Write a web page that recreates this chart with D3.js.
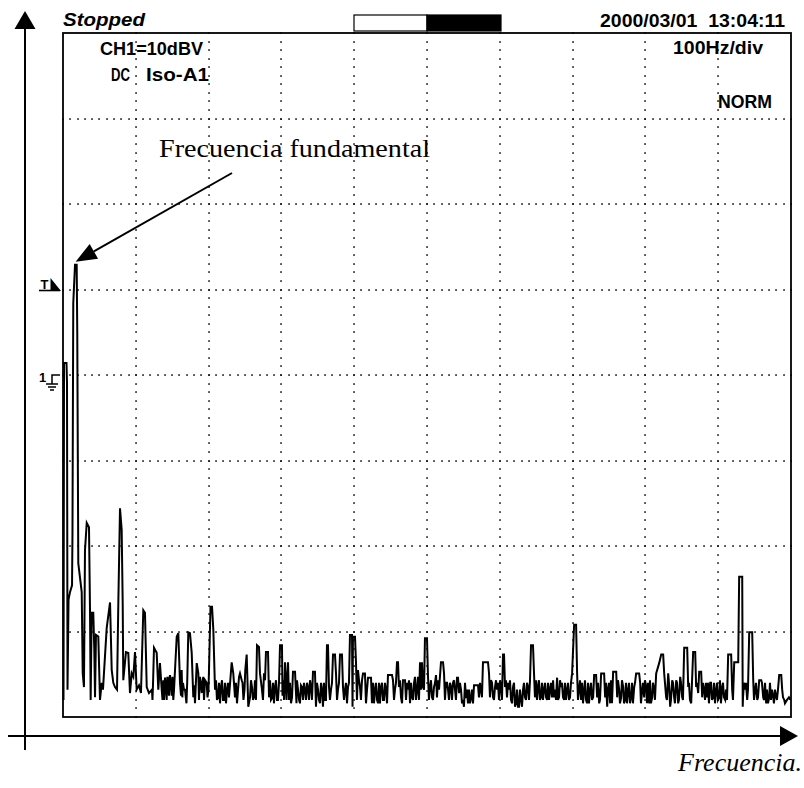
<!DOCTYPE html>
<html>
<head>
<meta charset="utf-8">
<script src="https://cdn.jsdelivr.net/npm/d3@7"></script>
<style>
html,body{margin:0;padding:0;background:#fff;}
svg{display:block;}
.scope{font-family:"Liberation Sans Narrow","Liberation Sans",Arial,sans-serif;fill:#000;font-weight:bold;}
.serif{font-family:"Liberation Serif","Times New Roman",serif;fill:#000;}
</style>
</head>
<body>
<svg id="chart" width="804" height="788"></svg>
<script>
// ---- data (frequency in Hz, level in dBV) ----
const xTicksHz = [0,100,200,300,400,500,600,700,800,900,1000];
const yTicksDb = [-70,-60,-50,-40,-30,-20,-10,0,10];
const headerLabels = ["Stopped", "2000/03/01  13:04:11"];
const screenLabels = ["CH1=10dBV", "DC", "Iso-A1", "100Hz/div", "NORM"];
const annotationLabel = "Frecuencia fundamental";
const fundamental = [18.0, -17.1];
const axisLabel = "Frecuencia.";
// main trace breakpoints [Hz, dBV]
const spectrum = [
[0.7,-68.0],[1.4,-28.6],[4.8,-28.6],[5.5,-30.9],[6.2,-66.8],[7.6,-56.3],[9.6,-55.4],[12.4,-54.6],[13.0,-48.7],[14.1,-21.6],
[16.5,-17.1],[18.8,-17.1],[19.6,-25.1],[21.0,-52.0],[25.7,-55.4],[27.1,-64.9],[28.8,-66.5],[30.2,-50.5],[32.6,-47.3],[35.7,-47.8],
[37.1,-57.5],[38.0,-68.0],[39.4,-57.8],[41.6,-57.8],[43.0,-62.2],[44.0,-67.7],[45.3,-60.4],[48.5,-60.6],[50.8,-68.0],[53.2,-66.0],
[54.9,-66.8],[60.0,-59.6],[64.6,-56.6],[66.9,-64.5],[69.1,-66.0],[71.4,-66.5],[74.2,-66.8],[76.0,-56.7],[78.3,-45.6],[80.6,-48.1],
[82.0,-56.7],[82.8,-65.7],[86.5,-62.4],[89.7,-62.5],[92.0,-67.2],[94.4,-64.9],[96.6,-65.3],[98.9,-62.4],[101.2,-66.8],[104.4,-66.3],
[107.1,-67.2],[110.3,-57.5],[112.6,-57.8],[115.0,-66.5],[118.1,-67.2],[122.2,-66.8],[125.0,-61.9],[128.7,-62.5],[130.9,-66.8],[133.2,-63.7],
[135.6,-66.8],[140.1,-65.4],[144.2,-65.7],[147.0,-65.1],[149.3,-67.5],[152.5,-66.8],[156.2,-60.6],[158.4,-60.2],[160.7,-66.0],[164.8,-66.0],
[167.6,-66.8],[172.1,-60.1],[174.4,-60.2],[176.8,-62.5],[179.0,-67.7],[181.3,-68.4],[183.7,-63.7],[185.9,-64.9],[188.2,-65.3],[190.5,-67.2],
[192.7,-65.3],[197.4,-66.0],[199.9,-66.8],[202.6,-57.1],[204.7,-57.1],[206.5,-59.8],[208.8,-66.8],[212.9,-67.7],[217.0,-66.5],[221.2,-68.0],
[225.3,-66.8],[228.0,-67.7],[231.7,-63.6],[233.9,-64.9],[236.3,-67.7],[240.4,-66.8],[243.1,-64.9],[245.5,-65.7],[247.9,-68.0],[252.3,-62.7],
[254.5,-68.8],[256.9,-67.7],[259.6,-66.5],[262.4,-67.7],[266.5,-61.6],[269.2,-61.8],[270.6,-64.9],[273.3,-66.8],[276.1,-64.9],[278.8,-62.4],
[281.6,-62.4],[283.0,-67.7],[287.1,-67.8],[291.2,-66.5],[295.3,-68.0],[298.1,-61.6],[300.8,-61.6],[301.5,-67.5],[305.0,-63.6],[309.1,-63.6],
[310.4,-68.0],[313.2,-68.4],[315.9,-64.7],[318.7,-64.7],[320.7,-68.4],[322.8,-66.8],[325.5,-68.4],[328.3,-66.5],[332.4,-66.8],[336.5,-66.5],
[340.7,-66.5],[343.4,-64.7],[346.1,-64.7],[347.5,-68.8],[350.3,-66.8],[353.0,-68.4],[355.8,-66.8],[359.9,-68.0],[362.6,-61.6],[364.0,-61.6],
[365.4,-66.5],[368.1,-66.8],[370.9,-62.7],[373.6,-62.7],[375.0,-64.9],[377.7,-66.8],[380.5,-62.7],[383.2,-62.7],[384.6,-66.5],[387.4,-66.8],
[391.5,-66.5],[394.2,-60.4],[397.0,-60.4],[397.7,-68.8],[398.3,-60.6],[401.1,-60.6],[402.5,-63.7],[405.2,-64.5],[408.0,-66.5],[412.1,-64.9],
[414.8,-64.9],[416.2,-68.4],[419.0,-65.4],[423.1,-65.4],[424.4,-68.4],[428.6,-66.8],[432.7,-68.4],[436.8,-66.5],[440.9,-68.0],[443.7,-66.8],
[446.4,-65.1],[451.9,-65.1],[453.3,-65.7],[456.0,-66.8],[458.8,-63.6],[460.2,-63.6],[461.5,-66.5],[464.3,-67.7],[467.0,-65.7],[469.8,-65.7],
[471.2,-68.0],[473.9,-66.8],[476.7,-68.4],[479.4,-67.7],[483.5,-65.3],[487.6,-65.3],[490.4,-63.6],[493.1,-63.6],[494.5,-66.5],[497.2,-60.8],
[500.0,-60.8],[501.4,-65.3],[504.1,-66.5],[506.9,-67.7],[509.6,-66.5],[512.4,-65.1],[513.7,-67.7],[516.5,-66.8],[519.2,-63.6],[522.0,-63.6],
[523.4,-64.9],[526.1,-66.0],[528.9,-66.8],[530.2,-68.0],[533.0,-66.5],[535.7,-66.0],[538.5,-66.8],[541.2,-65.4],[542.6,-65.4],[544.0,-67.2],
[546.7,-66.8],[549.5,-68.0],[550.8,-68.8],[553.6,-67.8],[560.5,-67.8],[564.6,-66.3],[570.1,-66.3],[571.4,-67.7],[574.2,-66.8],[576.9,-63.6],
[583.8,-63.6],[585.2,-64.9],[587.9,-65.7],[590.7,-67.7],[593.4,-66.5],[596.2,-66.8],[598.9,-68.0],[601.7,-66.5],[604.4,-62.7],[605.8,-62.7],
[607.2,-66.5],[609.9,-67.7],[612.7,-66.8],[615.4,-68.0],[618.1,-66.5],[622.3,-68.4],[626.4,-68.8],[629.2,-68.0],[631.9,-66.8],[634.6,-67.7],
[638.8,-66.5],[642.9,-61.6],[645.6,-61.6],[647.0,-64.9],[649.8,-65.7],[652.5,-66.5],[656.6,-67.7],[660.8,-66.8],[664.9,-68.0],[669.0,-66.8],
[673.2,-65.7],[675.9,-66.8],[678.7,-65.4],[681.4,-67.7],[684.2,-66.5],[688.3,-68.0],[692.4,-66.8],[696.5,-67.7],[699.3,-64.9],[702.1,-59.2],
[704.8,-59.2],[706.2,-64.9],[708.9,-66.8],[711.7,-68.0],[715.8,-66.8],[719.9,-68.4],[724.0,-66.8],[728.2,-67.7],[729.6,-65.1],[732.3,-65.1],
[733.7,-67.7],[736.5,-68.4],[739.2,-64.9],[743.3,-64.9],[744.7,-67.7],[747.5,-68.8],[751.6,-68.4],[755.7,-64.7],[759.9,-64.7],[761.2,-67.7],
[764.0,-66.8],[766.7,-67.7],[769.5,-66.5],[772.2,-68.0],[776.3,-66.8],[780.4,-67.7],[784.6,-66.5],[787.3,-64.9],[791.4,-64.9],[792.8,-66.0],
[795.6,-66.8],[798.3,-67.7],[801.1,-66.5],[805.2,-68.4],[809.3,-67.7],[812.1,-66.8],[814.8,-64.9],[818.9,-63.7],[821.7,-62.7],[824.4,-62.7],
[825.8,-64.9],[828.5,-67.7],[831.3,-64.9],[834.0,-68.8],[836.8,-65.7],[839.5,-67.7],[842.3,-65.7],[845.0,-68.4],[847.8,-65.3],[850.5,-67.7],
[853.3,-61.9],[857.4,-61.9],[858.8,-66.5],[862.9,-68.4],[865.6,-62.4],[868.4,-62.4],[869.7,-66.5],[872.5,-67.2],[873.9,-64.7],[876.6,-64.7],
[878.0,-67.7],[880.7,-66.8],[884.9,-67.7],[889.0,-66.0],[893.1,-67.7],[897.2,-66.8],[901.4,-67.7],[905.5,-66.5],[909.6,-68.0],[913.7,-62.7],
[917.8,-62.7],[919.2,-66.8],[922.0,-63.6],[927.5,-63.6],[928.8,-53.6],[933.0,-53.6],[933.7,-68.8],[937.1,-66.8],[939.8,-68.0],[942.6,-60.1],
[946.7,-60.1],[948.1,-65.7],[950.8,-66.8],[953.6,-68.0],[956.3,-65.7],[959.1,-65.7],[961.8,-67.7],[965.9,-68.4],[970.1,-67.7],[975.6,-67.7],
[979.7,-67.7],[983.8,-65.1],[986.6,-65.1],[987.9,-66.8],[990.7,-68.0],[999.0,-68.0]
];
// fine noise-floor wiggles read between the breakpoints above [Hz, dBV]
const noiseDetail = [
[122.9,-68.0],[123.6,-66.3],
[136.7,-68.0],[137.8,-65.7],[138.7,-68.0],[141.5,-66.8],[142.4,-68.0],[143.3,-65.3],[145.6,-67.5],[146.3,-65.4],
[150.4,-65.3],[151.5,-68.0],
[162.1,-67.5],[163.0,-64.5],[163.9,-67.7],[166.2,-66.8],
[169.6,-68.4],[170.7,-65.7],
[180.4,-66.3],[186.8,-68.0],[187.5,-65.7],[191.3,-66.0],[193.7,-68.0],[195.1,-65.7],[198.5,-67.7],
[210.2,-65.7],[211.5,-68.0],[214.3,-66.0],[215.7,-68.4],[218.4,-65.7],[219.8,-68.0],[222.5,-66.0],[223.9,-68.4],[226.6,-66.0],
[237.6,-66.0],[239.0,-68.4],[241.8,-65.3],[246.6,-66.0],[249.3,-66.8],[250.4,-64.5],
[258.2,-65.7],[261.0,-68.0],[263.7,-65.7],[265.1,-68.0],
[274.7,-68.0],[277.5,-65.7],
[284.4,-65.7],[285.7,-68.0],[288.5,-66.0],[289.8,-68.4],[292.6,-65.7],[294.0,-68.0],[296.7,-66.0],
[302.9,-65.7],[303.6,-68.0],[307.0,-68.0],[307.7,-66.0],
[311.8,-66.0],[314.6,-67.7],[321.4,-65.7],[324.2,-68.0],[326.9,-66.3],[329.7,-68.0],[331.0,-66.0],[333.8,-68.0],[335.2,-66.0],[337.9,-68.0],[339.3,-65.7],
[342.0,-68.0],[348.9,-66.0],[351.6,-68.0],[354.4,-66.0],[357.1,-68.8],[358.5,-66.0],[361.2,-68.0],
[366.7,-68.0],[369.5,-66.0],[376.4,-68.0],[379.1,-66.0],
[386.0,-68.0],[388.7,-66.0],[390.1,-68.4],[392.8,-66.0],
[403.8,-68.0],[406.6,-65.7],[409.3,-68.0],[410.7,-65.7],
[417.6,-66.8],
[425.8,-66.0],[427.2,-68.4],[429.9,-66.0],[431.3,-68.0],[434.1,-66.0],[435.4,-68.4],[438.2,-66.0],[439.6,-68.0],[442.3,-66.0],
[445.1,-68.4],
[454.7,-68.0],[457.4,-66.0],[462.9,-65.7],[465.7,-68.4],
[472.5,-66.0],[475.3,-65.7],[478.1,-66.0],[480.8,-68.0],[482.2,-66.0],
[484.9,-68.0],[486.3,-66.8],[489.0,-68.0],[491.8,-66.8],[495.9,-66.8],
[502.7,-68.0],[505.5,-65.7],[508.2,-68.0],[511.0,-66.0],[515.1,-65.7],
[524.7,-68.0],[527.5,-66.0],[531.6,-66.0],[534.3,-68.0],[537.1,-65.7],[539.8,-68.0],[545.3,-66.0],[548.1,-68.4],[552.2,-66.0],
[554.9,-66.8],[556.3,-68.4],[557.7,-66.8],[559.0,-68.4],[561.8,-66.8],[563.2,-68.4],
[572.8,-66.0],[575.5,-67.7],
[586.5,-67.7],[589.3,-66.0],[592.0,-68.0],[594.8,-65.7],[597.5,-66.0],[600.3,-65.7],[603.0,-68.0],
[608.5,-65.7],[611.3,-66.0],[614.0,-65.7],[616.8,-68.4],[619.5,-66.0],[620.9,-68.8],[623.6,-66.8],[625.0,-68.8],[627.7,-66.8],[630.5,-68.8],[633.2,-66.0],[636.0,-68.0],[637.4,-66.0],[640.1,-68.0],[641.5,-65.7],
[648.3,-67.7],[651.1,-68.0],[653.8,-65.7],[655.2,-68.0],[658.0,-66.0],[659.3,-68.0],[662.1,-66.0],[663.5,-67.7],[666.2,-66.0],[667.6,-68.0],[670.3,-66.0],[671.7,-67.7],[674.4,-67.7],[677.2,-68.0],[679.9,-68.0],[682.7,-65.7],[685.4,-66.0],[686.8,-67.7],[689.5,-66.0],[690.9,-68.0],[693.7,-66.0],[695.0,-68.0],[697.8,-66.0],
[707.4,-68.0],[710.2,-65.7],[712.9,-66.0],[714.3,-68.4],[717.0,-65.7],[718.4,-68.0],[721.2,-66.0],[722.5,-68.4],[725.3,-66.0],[726.7,-68.0],
[734.9,-66.0],[737.6,-68.0],
[745.9,-66.0],[748.6,-66.8],[750.0,-66.0],[752.7,-65.7],[754.1,-68.4],
[762.3,-65.7],[765.1,-68.4],[767.8,-65.7],[770.6,-68.4],[773.3,-66.0],[774.7,-68.4],[777.4,-66.0],[778.8,-68.4],[781.6,-66.0],[782.9,-68.4],[785.7,-66.0],
[793.9,-68.4],[796.7,-66.0],[799.4,-65.7],[802.2,-68.4],[803.5,-66.0],[806.3,-65.7],[807.6,-68.4],[810.4,-66.0],[813.1,-68.0],
[829.6,-68.0],[832.4,-66.0],[835.1,-68.0],[837.9,-66.0],[840.6,-68.4],[843.4,-66.0],[846.1,-68.0],[848.9,-66.0],[851.6,-68.0],
[859.9,-66.0],[861.2,-68.0],[870.9,-66.0],
[879.1,-66.0],[881.9,-68.0],[883.2,-66.0],[886.0,-66.0],[887.3,-68.4],[890.1,-66.0],[891.5,-68.0],[894.2,-66.0],[895.6,-68.4],[898.3,-66.0],[899.7,-68.0],[902.4,-65.7],[903.8,-68.4],[906.6,-66.0],[907.9,-67.7],[910.7,-66.8],[912.1,-68.0],
[920.3,-68.0],
[934.1,-67.7],[935.4,-66.0],[938.2,-66.0],[940.9,-66.8],
[949.2,-68.0],[951.9,-66.0],[954.7,-67.7],[960.1,-66.0],[962.9,-68.0],[964.3,-66.0],[967.0,-66.8],[968.4,-68.4],[971.1,-66.0],[972.5,-68.0],[973.9,-66.8],[976.6,-68.4],[978.0,-66.8],[980.7,-68.0],[982.1,-66.8],
[989.0,-67.7],[991.7,-68.4],[994.5,-68.0],[997.2,-67.7]
];

// ---- layout ----
const svg = d3.select("#chart");
const L = 63, R = 791, T = 33, B = 717;
const x = d3.scaleLinear().domain([0, 1000]).range([L, R]);
const y = d3.scaleLinear().domain([-70, 10]).range([B, T]);

// outer axes (y arrow, x arrow)
svg.append("line").attr("x1",25).attr("y1",24).attr("x2",25).attr("y2",750)
  .attr("stroke","#000").attr("stroke-width",2);
svg.append("path").attr("d","M25,11 L35.5,29 L14.5,29 Z").attr("fill","#000");
svg.append("line").attr("x1",8).attr("y1",736).attr("x2",782).attr("y2",736)
  .attr("stroke","#000").attr("stroke-width",2);
svg.append("path").attr("d","M798,736 L780,726 L780,746 Z").attr("fill","#000");

// dotted graticule
const gDots = svg.append("g").attr("fill","#111");
const hDots = [];
yTicksDb.slice(1, -1).forEach(v => {
  d3.range(0, 1000.1, 10).forEach(f => hDots.push([f, v]));
});
const vDots = [];
xTicksHz.slice(1, -1).forEach(f => {
  d3.range(-70, 10.1, 1).forEach(v => vDots.push([f, v]));
});
gDots.selectAll("rect.h").data(hDots).join("rect").attr("class","h")
  .attr("x", d => Math.round(x(d[0])) - 0.75).attr("y", d => Math.round(y(d[1])) - 0.75)
  .attr("width",1.6).attr("height",1.6);
gDots.selectAll("rect.v").data(vDots).join("rect").attr("class","v")
  .attr("x", d => Math.round(x(d[0])) - 0.75).attr("y", d => Math.round(y(d[1])) - 0.75)
  .attr("width",1.6).attr("height",1.6);

// spectrum trace
const trace = spectrum.concat(noiseDetail).sort((a, b) => a[0] - b[0]);
const line = d3.line().x(d => x(d[0])).y(d => y(d[1])).curve(d3.curveLinear);
svg.append("path").datum(trace).attr("d", line)
  .attr("fill","none").attr("stroke","#000").attr("stroke-width",2).attr("stroke-linejoin","miter");

// screen border
svg.append("rect").attr("x",L).attr("y",T).attr("width",R-L).attr("height",B-T)
  .attr("fill","none").attr("stroke","#000").attr("stroke-width",1.8);

// header
svg.append("text").attr("class","scope").attr("x",63).attr("y",26)
  .attr("font-size",18).attr("font-style","italic")
  .attr("textLength",82).attr("lengthAdjust","spacingAndGlyphs").text(headerLabels[0]);
svg.append("rect").attr("x",354).attr("y",15).attr("width",73).attr("height",16)
  .attr("fill","#fff").attr("stroke","#000").attr("stroke-width",1.2);
svg.append("rect").attr("x",427).attr("y",15).attr("width",74).attr("height",16)
  .attr("fill","#000").attr("stroke","#000").attr("stroke-width",1.2);
svg.append("text").attr("class","scope").attr("x",600).attr("y",27)
  .attr("font-size",18).attr("xml:space","preserve")
  .attr("textLength",185).attr("lengthAdjust","spacingAndGlyphs").text(headerLabels[1]);

// in-screen labels
svg.append("text").attr("class","scope").attr("x",100).attr("y",55)
  .attr("font-size",18).attr("textLength",103).attr("lengthAdjust","spacingAndGlyphs").text(screenLabels[0]);
svg.append("text").attr("class","scope").attr("x",111).attr("y",81)
  .attr("font-size",18).attr("textLength",19).attr("lengthAdjust","spacingAndGlyphs").text(screenLabels[1]);
svg.append("text").attr("class","scope").attr("x",146).attr("y",81)
  .attr("font-size",18).attr("textLength",63).attr("lengthAdjust","spacingAndGlyphs").text(screenLabels[2]);
svg.append("text").attr("class","scope").attr("x",673).attr("y",54)
  .attr("font-size",18).attr("textLength",90).attr("lengthAdjust","spacingAndGlyphs").text(screenLabels[3]);
svg.append("text").attr("class","scope").attr("x",718).attr("y",108)
  .attr("font-size",18).attr("textLength",54).attr("lengthAdjust","spacingAndGlyphs").text(screenLabels[4]);

// trigger marker "T"
const gT = svg.append("g");
gT.append("text").attr("class","scope").attr("x",40.5).attr("y",289).attr("font-size",13)
  .text("T");
gT.append("line").attr("x1",39).attr("x2",60).attr("y1",290.5).attr("y2",290.5).attr("stroke","#000").attr("stroke-width",1.6);
gT.append("path").attr("d","M50.5,278 L61,291 L50.5,291 Z").attr("fill","#000");

// ground marker "1"
const gG = svg.append("g").attr("stroke","#000").attr("stroke-width",1.5).attr("fill","none");
svg.append("text").attr("class","scope").attr("x",39).attr("y",382).attr("font-size",13)
  .text("1");
gG.append("path").attr("d","M60,375 L52,375 L52,384");
gG.append("line").attr("x1",46).attr("x2",58).attr("y1",384).attr("y2",384);
gG.append("line").attr("x1",48).attr("x2",56).attr("y1",387).attr("y2",387);
gG.append("line").attr("x1",50).attr("x2",54).attr("y1",390).attr("y2",390);

// annotation
svg.append("text").attr("class","serif").attr("x",159).attr("y",157)
  .attr("font-size",26).attr("textLength",271).attr("lengthAdjust","spacingAndGlyphs").text(annotationLabel);
const tip = [x(fundamental[0]) - 0.5, y(fundamental[1]) - 3];
const tail = [232, 173];
const ang = Math.atan2(tail[1]-tip[1], tail[0]-tip[0]);
const ux = Math.cos(ang), uy = Math.sin(ang);
const hl = 21, hw = 8.5;
const bc = [tip[0] + ux*hl, tip[1] + uy*hl];
svg.append("line").attr("x1",tail[0]).attr("y1",tail[1]).attr("x2",bc[0]).attr("y2",bc[1])
  .attr("stroke","#000").attr("stroke-width",2);
svg.append("path").attr("d",`M${tip[0]},${tip[1]} L${bc[0]-uy*hw},${bc[1]+ux*hw} L${bc[0]+uy*hw},${bc[1]-ux*hw} Z`)
  .attr("fill","#000");

// axis caption
svg.append("text").attr("class","serif").attr("x",802).attr("y",771).attr("text-anchor","end")
  .attr("font-size",26).attr("font-style","italic").text(axisLabel);
</script>
</body>
</html>
